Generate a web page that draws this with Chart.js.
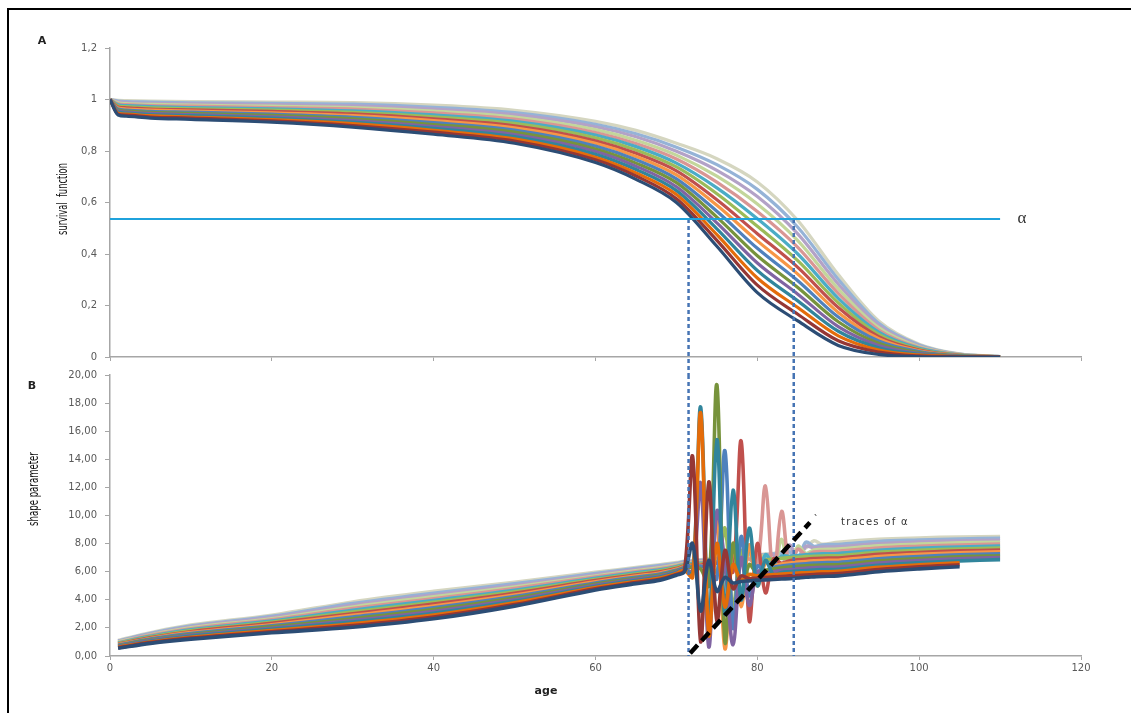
<!DOCTYPE html>
<html>
<head>
<meta charset="utf-8">
<script src="https://cdn.jsdelivr.net/npm/chart.js@4.4.1/dist/chart.umd.min.js"></script>
<style>
  html, body { margin: 0; padding: 0; background: #fff; overflow: hidden; }
  #page { position: relative; width: 1131px; height: 713px; overflow: hidden; background: #fff; }
  .edge { position: absolute; background: #000; }
  canvas { position: absolute; left: 0; }
  .lbl { position: absolute; white-space: nowrap; transform: translate(-50%, -50%); color: #222; font-family: 'DejaVu Sans', sans-serif; }
  .rot { font-family: 'Liberation Sans Narrow', 'DejaVu Sans Condensed', sans-serif; font-size: 14px; color: #111; }
</style>
</head>
<body>
<div id="page">
  <div class="edge" style="left:7px;top:8px;width:2px;height:705px"></div>
  <canvas id="chartA" width="1131" height="380" style="top:0"></canvas>
  <canvas id="chartB" width="1131" height="353" style="top:360px"></canvas>
  <div class="lbl" style="left:42px;top:40px;font-size:11px;font-weight:bold">A</div>
  <div class="lbl" style="left:32px;top:385px;font-size:11px;font-weight:bold">B</div>
  <div class="lbl rot" style="left:62px;top:199px;transform:translate(-50%,-50%) rotate(-90deg) scaleX(0.66)">survival&nbsp; function</div>
  <div class="lbl rot" style="left:33px;top:489px;transform:translate(-50%,-50%) rotate(-90deg) scaleX(0.68)">shape parameter</div>
  <div class="lbl" style="left:546px;top:690px;font-size:11px;font-weight:bold">age</div>
  <div class="lbl" style="left:1022px;top:218px;font-size:17px;font-family:'Liberation Serif',serif;color:#333">&alpha;</div>
  <div class="lbl" style="left:816px;top:519px;font-size:10px;color:#333">`</div>
  <div class="lbl" style="left:875px;top:521px;font-size:10px;letter-spacing:1.3px;color:#333">traces of &alpha;</div>
</div>
<script>
// panel A: survival function, one row per simulated curve (lowest first)
const ageA = [0, 1, 2, 5, 10, 20, 30, 40, 50, 60, 65, 70, 75, 80, 85, 90, 95, 100, 105, 110];
const survival = [
  [1, .940, .935, .928, .923, .912, .893, .865, .830, .755, .690, .600, .430, .250, .140, .045, .010, .001, 0, 0],
  [1, .943, .939, .932, .928, .917, .899, .873, .839, .766, .703, .615, .453, .279, .166, .063, .019, .004, .001, 0],
  [1, .947, .943, .937, .932, .922, .906, .880, .847, .776, .715, .631, .475, .307, .192, .082, .027, .008, .002, 0],
  [1, .951, .947, .941, .937, .928, .912, .888, .856, .787, .728, .646, .498, .336, .218, .100, .036, .011, .002, 0],
  [1, .955, .951, .946, .941, .933, .918, .895, .864, .798, .741, .661, .521, .365, .244, .118, .045, .014, .003, .001],
  [1, .959, .955, .950, .946, .938, .925, .903, .873, .808, .753, .677, .543, .393, .270, .137, .053, .017, .004, .001],
  [1, .963, .959, .954, .951, .943, .931, .910, .881, .819, .766, .692, .566, .422, .296, .155, .062, .021, .005, .001],
  [1, .967, .963, .959, .955, .948, .937, .918, .890, .830, .779, .707, .589, .451, .322, .173, .071, .024, .006, .001],
  [1, .971, .968, .963, .960, .954, .944, .925, .898, .840, .791, .723, .611, .479, .348, .192, .079, .027, .006, .001],
  [1, .975, .972, .968, .964, .959, .950, .933, .907, .851, .804, .738, .634, .508, .374, .210, .088, .030, .007, .001],
  [1, .979, .976, .972, .969, .964, .956, .940, .915, .862, .817, .753, .657, .537, .400, .228, .097, .034, .008, .001],
  [1, .983, .980, .976, .974, .969, .963, .948, .924, .872, .829, .769, .679, .565, .426, .247, .105, .037, .009, .001],
  [1, .987, .984, .981, .978, .974, .969, .955, .932, .883, .842, .784, .702, .594, .452, .265, .114, .040, .010, .002],
  [1, .991, .988, .985, .983, .980, .975, .963, .941, .894, .855, .799, .725, .623, .478, .283, .123, .043, .010, .002],
  [1, .994, .992, .990, .987, .985, .982, .970, .949, .904, .867, .815, .747, .651, .504, .302, .131, .047, .011, .002],
  [1, .997, .996, .994, .992, .990, .988, .978, .958, .915, .880, .830, .770, .680, .530, .320, .140, .050, .012, .002]
];

// panel B: shape parameter, same curves, split in three age ranges
const ageEarly = [1, 5, 10, 20, 30, 40, 50, 60, 65, 68, 70];
const shapeEarly = [
  [.55, .90, 1.20, 1.65, 2.05, 2.65, 3.55, 4.70, 5.15, 5.40, 5.75],
  [.59, .95, 1.27, 1.73, 2.17, 2.78, 3.66, 4.78, 5.23, 5.47, 5.81],
  [.62, 1.00, 1.33, 1.82, 2.29, 2.91, 3.78, 4.87, 5.30, 5.55, 5.87],
  [.66, 1.05, 1.40, 1.90, 2.41, 3.04, 3.89, 4.95, 5.38, 5.62, 5.93],
  [.70, 1.10, 1.47, 1.98, 2.53, 3.17, 4.00, 5.03, 5.46, 5.69, 5.99],
  [.73, 1.15, 1.53, 2.07, 2.65, 3.30, 4.12, 5.12, 5.53, 5.77, 6.05],
  [.77, 1.20, 1.60, 2.15, 2.77, 3.43, 4.23, 5.20, 5.61, 5.84, 6.11],
  [.81, 1.25, 1.67, 2.23, 2.89, 3.56, 4.34, 5.28, 5.69, 5.91, 6.17],
  [.84, 1.30, 1.73, 2.32, 3.01, 3.69, 4.46, 5.37, 5.76, 5.99, 6.23],
  [.88, 1.35, 1.80, 2.40, 3.13, 3.82, 4.57, 5.45, 5.84, 6.06, 6.29],
  [.92, 1.40, 1.87, 2.48, 3.25, 3.95, 4.68, 5.53, 5.92, 6.13, 6.35],
  [.95, 1.45, 1.93, 2.57, 3.37, 4.08, 4.80, 5.62, 5.99, 6.21, 6.41],
  [.99, 1.50, 2.00, 2.65, 3.49, 4.21, 4.91, 5.70, 6.07, 6.28, 6.47],
  [1.03, 1.55, 2.07, 2.73, 3.61, 4.34, 5.02, 5.78, 6.15, 6.35, 6.53],
  [1.06, 1.60, 2.13, 2.82, 3.73, 4.47, 5.14, 5.87, 6.22, 6.43, 6.59],
  [1.10, 1.65, 2.20, 2.90, 3.85, 4.60, 5.25, 5.95, 6.30, 6.50, 6.65]
];
const ageMid = [71, 72, 73, 74, 75, 76, 77, 78, 79, 80, 81, 82, 83, 84, 85, 86, 87, 88];
const shapeMid = [
  [6.0, 8.0, 3.2, 6.8, 4.6, 5.6, 5.2, 5.3, 5.35, 5.4, 5.42, 5.45, 5.48, 5.5, 5.55, 5.6, 5.63, 5.66],
  [6.1, 14.2, 1.0, 12.4, 2.5, 7.5, 4.8, 5.7, 5.5, 5.55, 5.6, 5.63, 5.66, 5.7, 5.73, 5.77, 5.8, 5.83],
  [6.1, 5.6, 17.3, 1.5, 8.0, 3.5, 6.5, 5.4, 5.8, 5.7, 5.75, 5.8, 5.83, 5.86, 5.9, 5.93, 5.96, 5.99],
  [6.15, 5.8, 17.7, 2.0, 15.4, 3.0, 11.8, 4.0, 9.1, 5.0, 6.8, 5.8, 5.95, 6.0, 6.05, 6.09, 6.12, 6.15],
  [6.2, 6.0, 12.3, 0.64, 10.3, 6.5, 0.8, 7.0, 3.6, 6.0, 5.9, 6.0, 6.1, 6.15, 6.2, 6.25, 6.28, 6.31],
  [6.25, 6.3, 6.2, 5.0, 19.3, 1.0, 8.0, 4.5, 6.5, 5.9, 6.1, 6.2, 6.28, 6.33, 6.38, 6.42, 6.45, 6.48],
  [6.3, 6.35, 6.4, 6.2, 5.5, 14.6, 2.0, 8.5, 4.3, 6.4, 6.0, 6.3, 6.4, 6.47, 6.52, 6.57, 6.61, 6.64],
  [6.35, 6.4, 6.45, 6.2, 9.6, 0.5, 8.0, 3.5, 7.9, 5.0, 6.6, 6.4, 6.55, 6.62, 6.68, 6.73, 6.77, 6.8],
  [6.4, 6.45, 6.5, 6.55, 6.6, 6.5, 6.0, 15.3, 2.5, 8.0, 4.5, 6.9, 6.6, 6.78, 6.84, 6.89, 6.93, 6.96],
  [6.45, 6.5, 6.55, 6.6, 6.0, 9.1, 3.5, 7.5, 5.5, 5.8, 6.8, 6.9, 6.95, 7.0, 7.03, 7.07, 7.1, 7.12],
  [6.5, 6.55, 6.6, 6.65, 6.7, 6.75, 6.8, 6.85, 7.6, 5.5, 7.2, 6.6, 7.1, 7.1, 7.15, 7.2, 7.24, 7.27],
  [6.55, 6.6, 6.65, 6.7, 6.75, 6.8, 6.85, 6.9, 6.9, 6.5, 12.1, 5.5, 10.3, 6.2, 7.6, 7.2, 7.4, 7.43],
  [6.6, 6.65, 6.7, 6.75, 6.8, 6.85, 6.9, 6.95, 7.0, 7.05, 7.1, 6.2, 8.3, 5.8, 7.8, 7.3, 7.55, 7.58],
  [6.65, 6.7, 6.75, 6.8, 6.85, 6.9, 6.95, 7.0, 7.05, 7.1, 7.15, 7.2, 6.3, 7.9, 6.7, 7.8, 7.7, 7.75],
  [6.7, 6.75, 6.8, 6.85, 6.9, 6.95, 7.0, 7.05, 7.1, 7.15, 7.2, 7.25, 7.3, 7.4, 6.9, 8.1, 7.8, 7.9],
  [6.75, 6.8, 6.85, 6.9, 6.95, 7.0, 7.05, 7.1, 7.15, 7.2, 7.25, 7.3, 7.4, 7.5, 7.6, 7.7, 8.2, 7.95]
];
const ageLate = [90, 95, 100, 105, 110];
const shapeLate = [
  [5.70, 6.00, 6.20, 6.35, null],
  [5.86, 6.15, 6.35, 6.49, null],
  [6.02, 6.31, 6.49, 6.63, null],
  [6.18, 6.46, 6.64, 6.77, 6.86],
  [6.34, 6.61, 6.79, 6.92, 7.00],
  [6.50, 6.77, 6.93, 7.06, 7.13],
  [6.66, 6.92, 7.08, 7.20, 7.27],
  [6.82, 7.07, 7.23, 7.34, 7.41],
  [6.98, 7.23, 7.37, 7.48, 7.54],
  [7.14, 7.38, 7.52, 7.62, 7.68],
  [7.30, 7.53, 7.67, 7.76, 7.82],
  [7.46, 7.69, 7.81, 7.90, 7.96],
  [7.62, 7.84, 7.96, 8.05, 8.09],
  [7.78, 7.99, 8.11, 8.19, 8.23],
  [7.94, 8.15, 8.25, 8.33, 8.37],
  [8.10, 8.30, 8.40, 8.47, 8.50]
];

const alphaLevel = 0.536;
const alphaLineEnd = 110;
const alphaAges = [71.5, 84.5];
const belowAxisA = -0.07;
const traceStart = [71.7, 0.2];
const traceEnd = [86.5, 9.5];

const colors = ['#2C4D75', '#953735', '#E46C0A', '#31859C', '#8064A2', '#77933C', '#4F81BD', '#F79646',
                '#C0504D', '#9BBB59', '#4BACC6', '#D99694', '#C3D69B', '#B3A2C7', '#95B3D7', '#D5D6C0'];

const axisGrey = '#A6A6A6';
const tickFont = {family: 'DejaVu Sans', size: 10};

function pts(xs, ys) {
  return xs.map((x, k) => ({x: x, y: ys[k]}));
}

function xAxis(height, showLabels) {
  return {
    type: 'linear', min: 0, max: 120,
    afterFit: s => { s.height = height; },
    ticks: {display: showLabels, stepSize: 20, padding: 2, color: '#595959', font: tickFont, maxRotation: 0},
    border: {color: axisGrey, width: 1.5},
    grid: {drawOnChartArea: false, drawTicks: true, tickLength: 4, color: axisGrey}
  };
}

function yAxis(max, step, fmt) {
  return {
    min: 0, max: max,
    afterFit: s => { s.width = 90; },
    ticks: {stepSize: step, padding: 8, color: '#595959', font: tickFont, callback: fmt},
    border: {color: axisGrey, width: 1.5},
    grid: {drawOnChartArea: false, drawTicks: true, tickLength: 5, color: axisGrey}
  };
}

const common = {
  responsive: false, animation: false, events: [],
  plugins: {legend: {display: false}, tooltip: {enabled: false}},
  elements: {point: {radius: 0}}
};

// the figure's top frame edge, painted on the top canvas
const frameTop = {
  id: 'frameTop',
  beforeDraw(chart) {
    chart.ctx.save();
    chart.ctx.fillStyle = '#000';
    chart.ctx.fillRect(7, 8, chart.width - 7, 2);
    chart.ctx.restore();
  }
};

// A
const setsA = [
  {data: [{x: 0, y: alphaLevel}, {x: alphaLineEnd, y: alphaLevel}], borderColor: '#1FA2DC', borderWidth: 2.2},
  ...alphaAges.map(a => ({data: [{x: a, y: alphaLevel}, {x: a, y: belowAxisA}], borderColor: '#4674B4',
    borderWidth: 2.5, borderDash: [4, 3], clip: false})),
  ...survival.map((row, i) => ({data: pts(ageA, row), borderColor: colors[i], borderWidth: 3.2,
    cubicInterpolationMode: 'monotone'}))
];

new Chart(document.getElementById('chartA'), {
  type: 'line',
  data: {datasets: setsA},
  plugins: [frameTop],
  options: {
    ...common,
    layout: {padding: {left: 20, right: 50, top: 48, bottom: 0}},
    scales: {
      x: xAxis(23, false),
      y: yAxis(1.2, 0.2, v => String(Math.round(v * 10) / 10).replace('.', ','))
    }
  }
});

// B
const setsB = [
  {data: [{x: traceStart[0], y: traceStart[1]}, {x: traceEnd[0], y: traceEnd[1]}], borderColor: '#000',
    borderWidth: 4.5, borderDash: [11, 6], clip: false},
  ...alphaAges.map(a => ({data: [{x: a, y: 20}, {x: a, y: 0}], borderColor: '#4674B4',
    borderWidth: 2.5, borderDash: [4, 3]})),
  ...shapeEarly.map((row, i) => ({
    data: pts(ageEarly, row).concat(pts(ageMid, shapeMid[i]), pts(ageLate, shapeLate[i])),
    borderColor: colors[i], borderWidth: 3.6, tension: 0.35
  }))
];

new Chart(document.getElementById('chartB'), {
  type: 'line',
  data: {datasets: setsB},
  options: {
    ...common,
    layout: {padding: {left: 20, right: 50, top: 15, bottom: 0}},
    scales: {
      x: xAxis(57, true),
      y: yAxis(20, 2, v => v.toFixed(2).replace('.', ','))
    }
  }
});
</script>
</body>
</html>
